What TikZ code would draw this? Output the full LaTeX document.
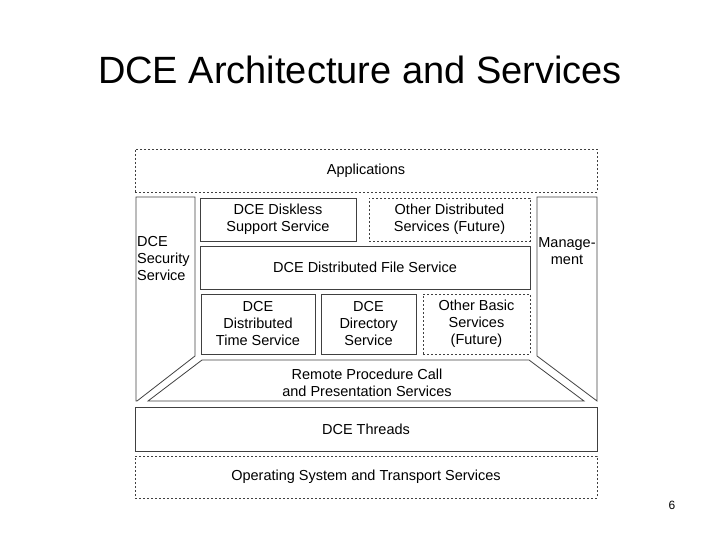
\documentclass[tikz,border=0pt]{standalone}
\usepackage{fontspec}
\setmainfont{Liberation Sans}
\begin{document}
\begin{tikzpicture}[x=1pt,y=-1pt,
  bx/.style={draw=black!75,line width=0.8pt,align=center,font=\fontsize{14.5}{17}\selectfont,inner sep=0pt},
  dbx/.style={bx,dashed,dash pattern=on 2pt off 2pt},
  lbl/.style={align=center,font=\fontsize{14.5}{17}\selectfont,inner sep=0pt}]
\useasboundingbox (0,0) rectangle (720,540);
\node[font=\fontsize{38}{44}\selectfont] (title) at (360,70) {DCE Architecture and Services};
\node[font=\fontsize{12}{14}\selectfont] (pg) at (672,505) {6};
\node[dbx,minimum width=462,minimum height=43] (app) at (366,170.5) {Applications};
\draw[draw=black!75,line width=0.8pt] (136,197) -- (195,197) -- (195,356) -- (137,401) -- (136,401) -- cycle;
\node[lbl,align=left,anchor=west] (sec) at (137,259) {DCE\\Security\\Service};
\draw[draw=black!75,line width=0.8pt] (537,197) -- (597,197) -- (597,401) -- (537,356) -- cycle;
\node[lbl] (mgmt) at (567,251) {Manage-\\ment};
\node[bx,minimum width=156,minimum height=43] (disk) at (278,219.5) {DCE Diskless\\Support Service};
\node[dbx,minimum width=161,minimum height=43] (ods) at (449.5,219.5) {Other Distributed\\Services (Future)};
\node[bx,minimum width=330,minimum height=43] (dfs) at (365,267.5) {DCE Distributed File Service};
\node[bx,minimum width=114,minimum height=60] (time) at (258,324) {DCE\\Distributed\\Time Service};
\node[bx,minimum width=95,minimum height=60] (dir) at (368.5,324) {DCE\\Directory\\Service};
\node[dbx,minimum width=107,minimum height=60] (obs) at (476.5,324) {Other Basic\\Services\\(Future)};
\draw[draw=black!75,line width=0.8pt] (202,360) -- (529,360) -- (584,401) -- (148,401) -- cycle;
\node[lbl] (rpc) at (367,383) {Remote Procedure Call\\and Presentation Services};
\node[bx,minimum width=462,minimum height=44] (thr) at (366,429) {DCE Threads};
\node[dbx,minimum width=462,minimum height=42] (os) at (366,477) {Operating System and Transport Services};
\end{tikzpicture}
\end{document}
